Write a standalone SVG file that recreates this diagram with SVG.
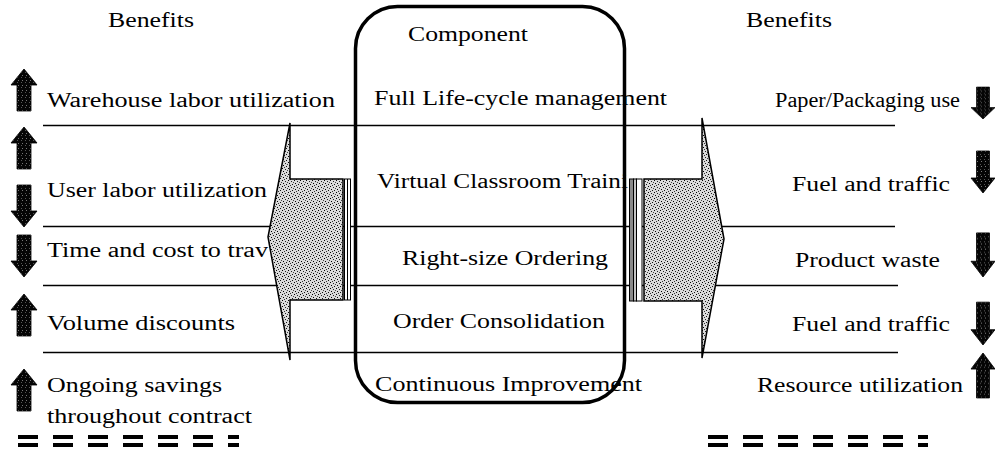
<svg xmlns="http://www.w3.org/2000/svg" width="995" height="454" viewBox="0 0 995 454">
  <style>
    .t { font-family: "Liberation Serif", "Times New Roman", serif; font-size: 20px; fill: #000; }
    .rule { stroke: #000; stroke-width: 1.5; fill: none; }
    .blk { fill: url(#stipple); stroke: #000; stroke-width: 1.5; stroke-linejoin: miter; }
    .strip { stroke: #000; stroke-width: 1; }
    .tick { fill: url(#dark); stroke: #000; stroke-width: 0.8; }
    .dash { stroke: #000; stroke-width: 4; stroke-dasharray: 20 15; fill: none; }
  </style>
  <defs>
    <!-- grainy grey used inside the two big block arrows -->
    <pattern id="stipple" width="6" height="6" patternUnits="userSpaceOnUse">
      <rect width="6" height="6" fill="#dadada"/>
      <rect x="0" y="0" width="1" height="1" fill="#000"/>
      <rect x="3" y="1" width="1" height="1" fill="#222"/>
      <rect x="1" y="3" width="1" height="1" fill="#000"/>
      <rect x="4" y="4" width="1" height="1" fill="#111"/>
      <rect x="5" y="2" width="1" height="1" fill="#444"/>
      <rect x="2" y="5" width="1" height="1" fill="#333"/>
    </pattern>
    <!-- near-black speckle for the small up/down indicators -->
    <pattern id="dark" width="4" height="5" patternUnits="userSpaceOnUse">
      <rect width="4" height="5" fill="#050505"/>
      <rect x="2" y="1" width="1" height="1" fill="#777"/>
      <rect x="1" y="3" width="1" height="1" fill="#555"/>
    </pattern>
    <path id="up" d="M0,0 L13,16 L7,16 L7,42 L-7,42 L-7,16 L-13,16 Z"/>
    <path id="upR" d="M0,0 L12,15 L6.5,15 L6.5,42 L-6.5,42 L-6.5,15 L-12,15 Z"/>
  </defs>

  <rect width="995" height="454" fill="#fff"/>

  <!-- row dividers -->
  <g id="dividers">
    <line class="rule" x1="43" y1="125.5" x2="895" y2="125.5"/>
    <line class="rule" x1="43" y1="226.5" x2="895" y2="226.5"/>
    <line class="rule" x1="43" y1="285.5" x2="898" y2="285.5"/>
    <line class="rule" x1="43" y1="352.5" x2="898" y2="352.5"/>
  </g>

  <!-- left benefits column -->
  <g id="left-benefits">
    <text class="t" x="108" y="27" textLength="86" lengthAdjust="spacingAndGlyphs">Benefits</text>
    <text class="t" x="47" y="107" textLength="288" lengthAdjust="spacingAndGlyphs">Warehouse labor utilization</text>
    <text class="t" x="47" y="197" textLength="220" lengthAdjust="spacingAndGlyphs">User labor utilization</text>
    <text class="t" x="47" y="257" textLength="221" lengthAdjust="spacingAndGlyphs">Time and cost to trav</text>
    <text class="t" x="47" y="330" textLength="188" lengthAdjust="spacingAndGlyphs">Volume discounts</text>
    <text class="t" x="47" y="392" textLength="175" lengthAdjust="spacingAndGlyphs">Ongoing savings</text>
    <text class="t" x="47" y="423" textLength="205" lengthAdjust="spacingAndGlyphs">throughout contract</text>
  </g>

  <g id="left-indicators">
    <use href="#up" class="tick" transform="translate(24,69)"/>
    <use href="#up" class="tick" transform="translate(24,127)"/>
    <use href="#up" class="tick" transform="translate(24,227) scale(1,-1)"/>
    <use href="#up" class="tick" transform="translate(24,277) scale(1,-1)"/>
    <use href="#up" class="tick" transform="translate(24,294)"/>
    <use href="#up" class="tick" transform="translate(24,369)"/>
  </g>

  <!-- component column -->
  <g id="component">
    <text class="t" x="408" y="41" textLength="120" lengthAdjust="spacingAndGlyphs">Component</text>
    <text class="t" x="374" y="105" textLength="293" lengthAdjust="spacingAndGlyphs">Full Life-cycle management</text>
    <text class="t" x="377" y="188" textLength="251" lengthAdjust="spacingAndGlyphs">Virtual Classroom Traini</text>
    <text class="t" x="402" y="265" textLength="206" lengthAdjust="spacingAndGlyphs">Right-size Ordering</text>
    <text class="t" x="393" y="328" textLength="212" lengthAdjust="spacingAndGlyphs">Order Consolidation</text>
    <text class="t" x="375" y="391" textLength="267" lengthAdjust="spacingAndGlyphs">Continuous Improvement</text>
    <rect x="355.5" y="6.5" width="269" height="396" rx="42" ry="42" fill="none" stroke="#000" stroke-width="3.5"/>
  </g>

  <!-- right benefits column -->
  <g id="right-benefits">
    <text class="t" x="746" y="27" textLength="86" lengthAdjust="spacingAndGlyphs">Benefits</text>
    <text class="t" x="775" y="107" textLength="185" lengthAdjust="spacingAndGlyphs">Paper/Packaging use</text>
    <text class="t" x="792" y="191" textLength="158" lengthAdjust="spacingAndGlyphs">Fuel and traffic</text>
    <text class="t" x="795" y="267" textLength="145" lengthAdjust="spacingAndGlyphs">Product waste</text>
    <text class="t" x="792" y="331" textLength="158" lengthAdjust="spacingAndGlyphs">Fuel and traffic</text>
    <text class="t" x="757" y="392" textLength="206" lengthAdjust="spacingAndGlyphs">Resource utilization</text>
  </g>

  <g id="right-indicators">
    <use href="#upR" class="tick" transform="translate(983,119) scale(1,-0.76)"/>
    <use href="#upR" class="tick" transform="translate(983,193) scale(1,-1)"/>
    <use href="#upR" class="tick" transform="translate(983,277) scale(1,-1.05)"/>
    <use href="#upR" class="tick" transform="translate(983,345) scale(1,-1.02)"/>
    <use href="#upR" class="tick" transform="translate(983,353) scale(1,1.07)"/>
  </g>

  <!-- block arrows linking the component box to each benefits column -->
  <g id="connectors">
    <polygon class="blk" points="268,237 290,123 290,179 343,179 343,300 290,300 290,360"/>
    <rect class="strip" x="344.5" y="179" width="6" height="121" fill="#fff"/>
    <line class="strip" x1="347.5" y1="179" x2="347.5" y2="300"/>

    <rect class="strip" x="629.5" y="179" width="4" height="122" fill="#8a8a8a"/>
    <rect class="strip" x="633.5" y="179" width="3" height="122" fill="#c4c4c4"/>
    <rect class="strip" x="636.5" y="179" width="5.5" height="122" fill="#fff"/>
    <polygon class="blk" points="724,239 702,118 702,179 644,179 644,301 702,301 702,358"/>
  </g>

  <!-- double-bar dashed rules under each column -->
  <g id="footers">
    <line class="dash" x1="18" y1="437" x2="239" y2="437"/>
    <line class="dash" x1="18" y1="445" x2="239" y2="445"/>
    <line class="dash" x1="708" y1="437" x2="928" y2="437"/>
    <line class="dash" x1="708" y1="445" x2="928" y2="445"/>
  </g>
</svg>
